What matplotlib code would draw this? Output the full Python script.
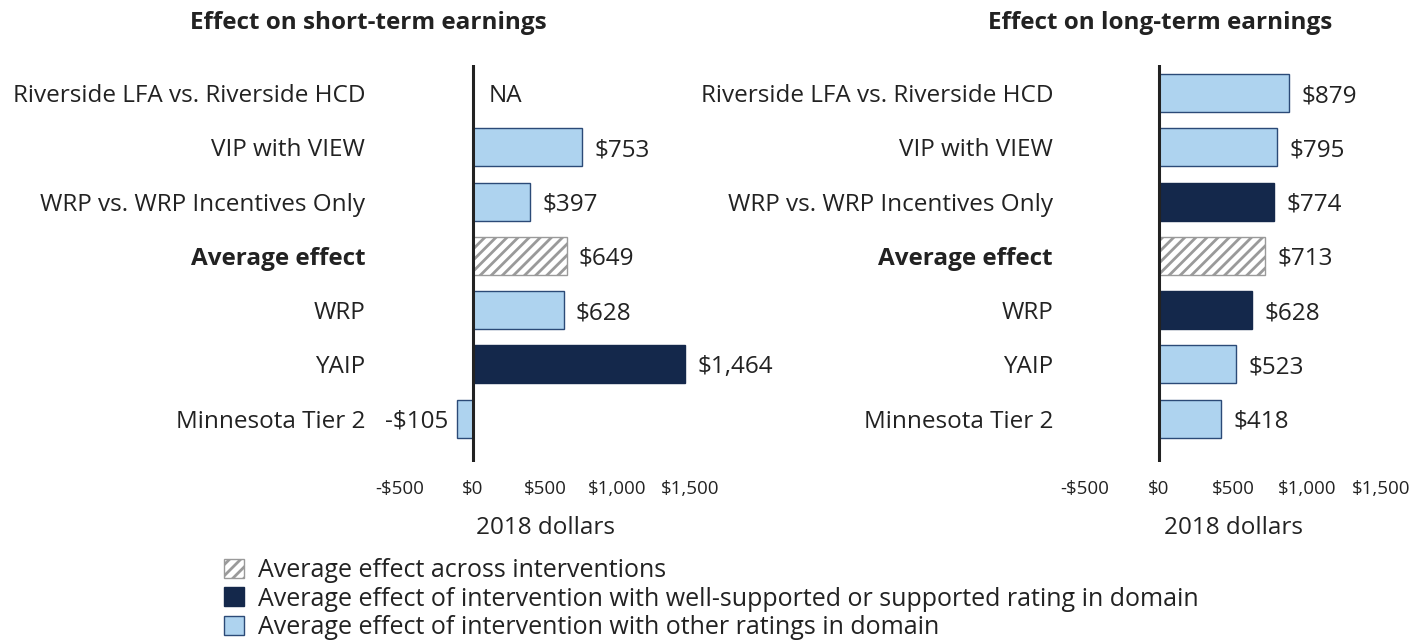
import matplotlib.pyplot as plt
from matplotlib.patches import Patch

plt.rcParams['font.family'] = ['Open Sans', 'DejaVu Sans']
plt.rcParams['hatch.linewidth'] = 2.0
plt.rcParams['hatch.color'] = '#9a9a9a'

categories = ['Riverside LFA vs. Riverside HCD', 'VIP with VIEW', 'WRP vs. WRP Incentives Only',
              'Average effect', 'WRP', 'YAIP', 'Minnesota Tier 2']
short_vals = [None, 753, 397, 649, 628, 1464, -105]
short_kind = ['other', 'other', 'other', 'avg', 'other', 'supported', 'other']
long_vals = [879, 795, 774, 713, 628, 523, 418]
long_kind = ['other', 'other', 'supported', 'avg', 'supported', 'other', 'other']
tick_vals = [-500, 0, 500, 1000, 1500]
tick_labels = ['-$500', '$0', '$500', '$1,000', '$1,500']

navy = '#14284b'
light = '#aed3ef'
light_edge = '#2b4a77'
text_col = '#222222'
fs = 17.5

fig = plt.figure(figsize=(14.22, 6.42), dpi=100)
W, H = 1422, 642


def fmt(v):
    s = '${:,}'.format(abs(v))
    return '-' + s if v < 0 else s


def panel(left, right, vals, kinds, title, title_x, ypad):
    ax = fig.add_axes([left / W, 1 - 462 / H, (right - left) / W, (462 - 65) / H])
    n = len(categories)
    ys = list(range(n))
    for y, v, k in zip(ys, vals, kinds):
        if v is None:
            ax.text(110, y, 'NA', va='center_baseline', ha='left', fontsize=fs, color=text_col)
            continue
        if k == 'supported':
            ax.barh(y, v, height=0.7, color=navy, edgecolor=navy, lw=1)
        elif k == 'avg':
            ax.barh(y, v, height=0.7, color='white', edgecolor='#9a9a9a', hatch='///', lw=1)
        else:
            ax.barh(y, v, height=0.7, color=light, edgecolor=light_edge, lw=1)
        if v < 0:
            ax.text(v - 65, y, fmt(v), va='center_baseline', ha='right', fontsize=fs, color=text_col)
        else:
            ax.text(v + 85, y, fmt(v), va='center_baseline', ha='left', fontsize=fs, color=text_col)
    ax.axvline(0, color='#222222', lw=2.2)
    ax.set_xlim(-500, 1500)
    ax.set_ylim(n - 1 + 0.8, -0.52)
    ax.set_yticks(ys)
    ax.set_yticklabels(categories, fontsize=fs, color=text_col)
    for lbl in ax.get_yticklabels():
        if lbl.get_text() == 'Average effect':
            lbl.set_fontweight('bold')
    ax.tick_params(axis='y', length=0, pad=ypad)
    ax.set_xticks(tick_vals)
    ax.set_xticklabels(tick_labels, fontsize=13.5, color=text_col)
    ax.tick_params(axis='x', length=0, pad=13)
    ax.set_xlabel('2018 dollars', fontsize=fs, color=text_col, labelpad=13)
    for s in ax.spines.values():
        s.set_visible(False)
    fig.text(title_x / W, 1 - 23 / H, title, ha='center', va='center',
             fontsize=17.5, fontweight='bold', color=text_col)
    return ax


panel(400, 690, short_vals, short_kind, 'Effect on short-term earnings', 368, 25)
panel(1085, 1381, long_vals, long_kind, 'Effect on long-term earnings', 1160, 23)

handles = [Patch(facecolor='white', edgecolor='#9a9a9a', hatch='///'),
           Patch(facecolor=navy, edgecolor=navy),
           Patch(facecolor=light, edgecolor=light_edge)]
labels = ['Average effect across interventions',
          'Average effect of intervention with well-supported or supported rating in domain',
          'Average effect of intervention with other ratings in domain']
fig.legend(handles, labels, loc='upper left', bbox_to_anchor=(224 / W, 1 - 558 / H),
           frameon=False, fontsize=18, handlelength=0.8, handleheight=0.8,
           handletextpad=0.55, labelspacing=0.14, borderpad=0, borderaxespad=0,
           labelcolor=text_col)

fig.savefig('out.png', dpi=100)
